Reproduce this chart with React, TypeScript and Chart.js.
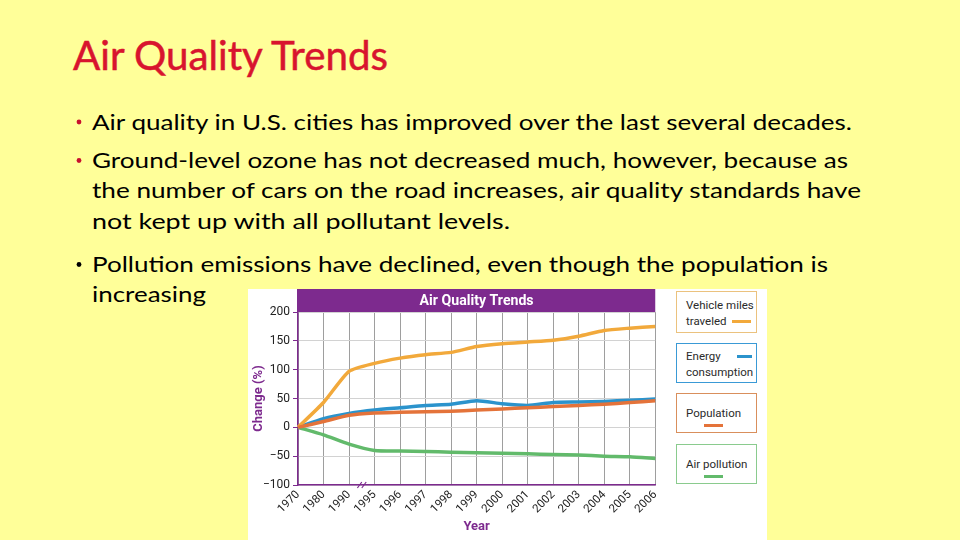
import React, { useEffect, useRef } from "react";
import { Chart, registerables } from "chart.js";

Chart.register(...registerables);

// ---------- data ----------
const YEARS = ["1970", "1980", "1990", "1995", "1996", "1997", "1998", "1999", "2000", "2001", "2002", "2003", "2004", "2005", "2006"];
const VEHICLE_MILES = [0, 43, 97, 111, 120, 126, 130, 140, 145, 148, 151, 158, 168, 172, 175];
const ENERGY = [0, 15, 24, 30, 34, 38, 40, 46, 41, 38, 43, 44, 45, 47, 49];
const POPULATION = [0, 10, 21, 25, 26, 27, 28, 30, 32, 34, 36, 38, 40, 43, 46];
const AIR_POLLUTION = [0, -13, -29, -40, -41, -42, -43, -44, -45, -46, -47, -48, -50, -51, -54];
const Y_MIN = -100;
const Y_MAX = 200;
const Y_STEP = 50;
const SERIES_NAMES = ["Vehicle miles traveled", "Energy consumption", "Population", "Air pollution"];
const LEGEND_LINES = [["Vehicle miles", "traveled"], ["Energy", "consumption"], ["Population"], ["Air pollution"]];
const CHART_TITLE = "Air Quality Trends";
const SLIDE_TITLE = "Air Quality Trends";
const BULLET_LINES = [
  "Air quality in U.S. cities has improved over the last several decades.",
  "Ground-level ozone has not decreased much, however, because as",
  "the number of cars on the road increases, air quality standards have",
  "not kept up with all pollutant levels.",
  "Pollution emissions have declined, even though the population is",
  "increasing",
];

// ---------- styles ----------
const BG = "#FFFF99";
const PURPLE = "#7D2A8E";
const COLORS = ["#F2A93B", "#2B93CC", "#E4733A", "#62BA6B"];
const BOX_BORDERS = ["#EBC27E", "#3A9AD6", "#D98F5C", "#8ACB8E"];
const FONT = "Roboto";

// line layout for slide text: [x, baseline, right edge, bullet colour]
const LINE_LAYOUT: [number, number, number, string | null][] = [
  [92, 129.5, 852, "#C8102E"],
  [92, 168, 848, "#C8102E"],
  [92, 198, 861, null],
  [92, 228.5, 510, null],
  [92, 272, 828, "#000"],
  [92, 302, 206, null],
];

const decorPlugin = {
  id: "decor",
  afterDraw(chart: any) {
    const { ctx, chartArea } = chart;
    ctx.save();
    ctx.fillStyle = PURPLE;
    ctx.fillRect(chartArea.left - 1, 0, chartArea.right - chartArea.left + 1, chartArea.top);
    ctx.fillStyle = "#ffffff";
    ctx.font = `bold 15px ${FONT}`;
    ctx.textAlign = "center";
    ctx.textBaseline = "middle";
    ctx.fillText(CHART_TITLE, (chartArea.left + chartArea.right) / 2, chartArea.top / 2 + 0.5, 114);
    // axis break marks between 1990 and 1995
    const xs = chart.scales.x;
    const mx = (xs.getPixelForValue(2) + xs.getPixelForValue(3)) / 2;
    const by = chartArea.bottom;
    ctx.strokeStyle = PURPLE;
    ctx.lineWidth = 1.2;
    for (const dx of [-2.2, 2.2]) {
      ctx.beginPath();
      ctx.moveTo(mx + dx - 2.2, by + 3);
      ctx.lineTo(mx + dx + 2.2, by - 3);
      ctx.stroke();
    }
    ctx.restore();
  },
};

export default function App() {
  const canvasRef = useRef<HTMLCanvasElement>(null);

  useEffect(() => {
    const seriesData = [VEHICLE_MILES, ENERGY, POPULATION, AIR_POLLUTION];
    const drawOrder = [1, 2, 0, 3];
    const chart = new Chart(canvasRef.current as HTMLCanvasElement, {
      type: "line",
      data: {
        labels: YEARS,
        datasets: seriesData.map((d, i) => ({
          label: SERIES_NAMES[i],
          data: d,
          borderColor: COLORS[i],
          backgroundColor: COLORS[i],
          borderWidth: 3.5,
          pointRadius: 0,
          tension: 0.2,
          fill: false,
          order: drawOrder[i],
        })),
      },
      options: {
        responsive: false,
        animation: false,
        events: [],
        layout: { padding: { top: 23, right: 10, left: 0, bottom: 0 } },
        plugins: {
          legend: { display: false },
          tooltip: { enabled: false },
          title: { display: false },
        },
        scales: {
          x: {
            type: "category",
            offset: false,
            grid: { color: "#9e9e9e", lineWidth: 1, drawTicks: false },
            border: { color: PURPLE, width: 1.5 },
            ticks: {
              autoSkip: false,
              minRotation: 45,
              maxRotation: 45,
              padding: 3,
              color: "#222",
              font: { family: FONT, size: 11.5 },
            },
            title: {
              display: true,
              text: "Year",
              color: PURPLE,
              font: { family: FONT, size: 13, weight: "bold" },
              padding: { top: 0, bottom: 5 },
            },
            afterFit: (s: any) => {
              s.height = 55;
            },
          },
          y: {
            min: Y_MIN,
            max: Y_MAX,
            ticks: {
              stepSize: Y_STEP,
              padding: 3,
              color: "#222",
              font: { family: FONT, size: 12 },
              callback: (v: any) => (Number(v) < 0 ? "\u2212" + Math.abs(Number(v)) : String(v)),
            },
            grid: { color: "#d2d2d2", lineWidth: 1, tickColor: PURPLE, tickLength: 5 },
            border: { color: PURPLE, width: 1.5 },
            title: {
              display: true,
              text: "Change (%)",
              color: PURPLE,
              font: { family: FONT, size: 13, weight: "bold" },
              padding: { top: 3, bottom: 4 },
            },
            afterFit: (s: any) => {
              s.width = 50;
            },
          },
        },
      },
      plugins: [decorPlugin],
    } as any);
    return () => chart.destroy();
  }, []);

  const boxes = [
    { top: 291, height: 42 },
    { top: 343, height: 40 },
    { top: 393, height: 40 },
    { top: 444, height: 40 },
  ];

  const sample = (c: string, left: number, top: number, w: number) => (
    <div style={{ position: "absolute", left, top, width: w, height: 3, background: c }} />
  );

  const textDiv = (t: string, top: number) => (
    <div
      style={{
        position: "absolute",
        left: 9,
        top,
        lineHeight: "16px",
        fontSize: 11.5,
        fontFamily: FONT,
        color: "#2b2b2b",
        whiteSpace: "nowrap",
      }}
    >
      {t}
    </div>
  );

  return (
    <div
      style={{
        position: "fixed",
        left: 0,
        top: 0,
        width: 960,
        height: 540,
        background: BG,
        overflow: "hidden",
      }}
    >
      <svg width={960} height={540} style={{ position: "absolute", left: 0, top: 0 }}>
        <text
          x={73}
          y={70}
          fontFamily="Lato"
          fontSize={40}
          fill="#D8142E"
          stroke="#D8142E"
          strokeWidth={0.5}
          textLength={315}
          lengthAdjust="spacingAndGlyphs"
        >
          {SLIDE_TITLE}
        </text>
        {BULLET_LINES.map((t, i) => {
          const [x, y, r, bullet] = LINE_LAYOUT[i];
          return (
            <g key={i}>
              {bullet && <circle cx={79} cy={y - 7.5} r={2.4} fill={bullet} />}
              <text
                x={x}
                y={y}
                fontFamily="Lato"
                fontSize={21.5}
                fill="#000"
                textLength={r - x}
                lengthAdjust="spacingAndGlyphs"
              >
                {t}
              </text>
            </g>
          );
        })}
      </svg>
      <div style={{ position: "absolute", left: 248, top: 289, width: 519, height: 251, background: "#fff" }} />
      <canvas
        ref={canvasRef}
        width={420}
        height={251}
        style={{ position: "absolute", left: 248, top: 289, width: 420, height: 251 }}
      />
      {boxes.map((b, i) => (
        <div
          key={i}
          style={{
            position: "absolute",
            left: 676,
            top: b.top,
            width: 81,
            height: b.height,
            boxSizing: "border-box",
            border: `1.5px solid ${BOX_BORDERS[i]}`,
            background: "#fff",
          }}
        >
          {i === 0 && (
            <>
              {textDiv(LEGEND_LINES[0][0], 5)}
              {textDiv(LEGEND_LINES[0][1], 21)}
              {sample(COLORS[0], 55, 28, 19)}
            </>
          )}
          {i === 1 && (
            <>
              {textDiv(LEGEND_LINES[1][0], 4)}
              {textDiv(LEGEND_LINES[1][1], 20)}
              {sample(COLORS[1], 60, 11, 15)}
            </>
          )}
          {i >= 2 && (
            <>
              {textDiv(LEGEND_LINES[i][0], 11)}
              {sample(COLORS[i], 27, 30, 19)}
            </>
          )}
        </div>
      ))}
    </div>
  );
}
